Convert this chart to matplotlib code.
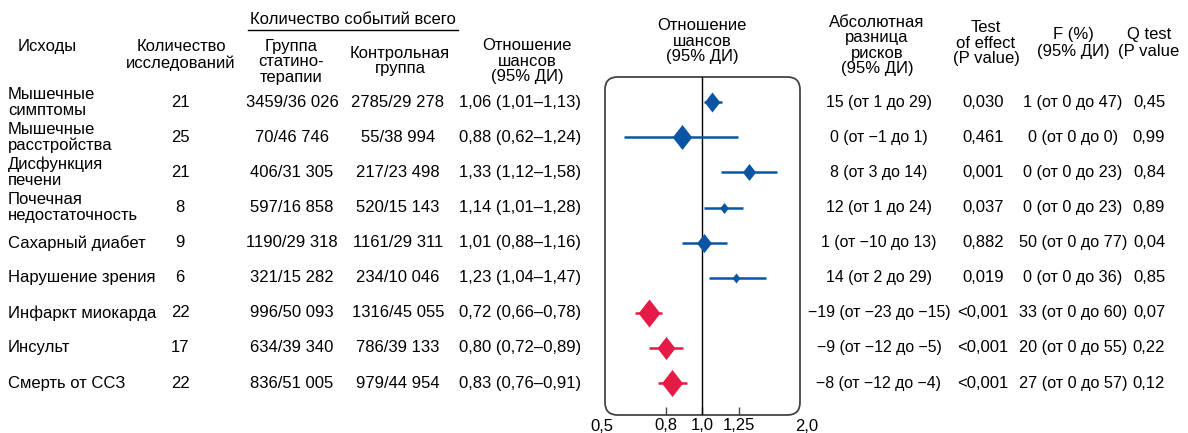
import numpy as np
import matplotlib
matplotlib.use("Agg")
import matplotlib.pyplot as plt
from matplotlib.patches import FancyBboxPatch
from matplotlib.lines import Line2D
from matplotlib.transforms import blended_transform_factory

plt.rcParams['font.family'] = ['Liberation Sans', 'DejaVu Sans']

# data
outcomes = ["Мышечные\nсимптомы", "Мышечные\nрасстройства", "Дисфункция\nпечени",
            "Почечная\nнедостаточность", "Сахарный диабет", "Нарушение зрения",
            "Инфаркт миокарда", "Инсульт", "Смерть от ССЗ"]
n_studies = [21, 25, 21, 8, 9, 6, 22, 17, 22]
statin_events = [3459, 70, 406, 597, 1190, 321, 996, 634, 836]
statin_total = [36026, 46746, 31305, 16858, 29318, 15282, 50093, 39340, 51005]
control_events = [2785, 55, 217, 520, 1161, 234, 1316, 786, 979]
control_total = [29278, 38994, 23498, 15143, 29311, 10046, 45055, 39133, 44954]
odds_ratio = [1.06, 0.88, 1.33, 1.14, 1.01, 1.23, 0.72, 0.80, 0.83]
or_low = [1.01, 0.62, 1.12, 1.01, 0.88, 1.04, 0.66, 0.72, 0.76]
or_high = [1.13, 1.24, 1.58, 1.28, 1.16, 1.47, 0.78, 0.89, 0.91]
ard = [15, 0, 8, 12, 1, 14, -19, -9, -8]
ard_low = [1, -1, 3, 1, -10, 2, -23, -12, -12]
ard_high = [29, 1, 14, 24, 13, 29, -15, -5, -4]
p_effect = ["0,030", "0,461", "0,001", "0,037", "0,882", "0,019", "<0,001", "<0,001", "<0,001"]
f_val = [1, 0, 0, 0, 50, 0, 33, 20, 27]
f_low = [0, 0, 0, 0, 0, 0, 0, 0, 0]
f_high = [47, 0, 23, 23, 77, 36, 60, 55, 57]
q_test = ["0,45", "0,99", "0,84", "0,89", "0,04", "0,85", "0,07", "0,22", "0,12"]

# diamond heights in pixels (weights as drawn)
diamond_px = [20, 25, 17, 11, 19, 10, 28, 23, 27]

BLUE = "#0a55a3"
RED = "#e51b45"
W, H = 1188, 433
FS = 12


def thousands(v):
    return f"{v:,}".replace(",", " ")


def dec(v):
    return f"{v:.2f}".replace(".", ",")


def num(v):
    return f"{v}".replace("-", "\u2212")


fig = plt.figure(figsize=(W / 100, H / 100), dpi=100)
ax = fig.add_axes([605 / W, (H - 415) / H, 195 / W, 338 / H])

ax.set_xscale("log")
ax.set_xlim(0.551, 1.815)
ax.set_ylim(8.91, -0.72)
for s in ax.spines.values():
    s.set_visible(False)
ax.set_yticks([])
ax.set_xticks([0.8, 1.0, 1.25])
ax.set_xticklabels(["0,8", "1,0", "1,25"])
ax.xaxis.set_minor_locator(matplotlib.ticker.NullLocator())
ax.tick_params(axis="x", direction="in", length=6, width=1, color="#444444",
               labelsize=FS, pad=2)

box = FancyBboxPatch((0, 0), 1, 1, boxstyle="round,pad=0,rounding_size=0.065",
                     mutation_aspect=195 / 338, transform=ax.transAxes,
                     facecolor="none", edgecolor="#444444", lw=1.3, clip_on=False)
ax.add_patch(box)
ax.axvline(1.0, color="black", lw=1.0)
ax.text(-0.015, -0.012, "0,5", transform=ax.transAxes, ha="center", va="top", fontsize=FS)
ax.text(1.036, -0.012, "2,0", transform=ax.transAxes, ha="center", va="top", fontsize=FS)

diamond = [(0, 1), (0.78, 0), (0, -1), (-0.78, 0), (0, 1)]
for i in range(len(outcomes)):
    c = RED if or_high[i] < 1 else BLUE
    ax.plot([or_low[i], or_high[i]], [i, i], color=c, lw=1.8, solid_capstyle="butt")
    ax.plot(odds_ratio[i], i, marker=diamond, markersize=diamond_px[i] * 0.72,
            color=c, markeredgewidth=0)

# row texts
tr = blended_transform_factory(fig.transFigure, ax.transData)
for i in range(len(outcomes)):
    kw = dict(transform=tr, va="center", ha="center")
    fig.text(8 / W, i, outcomes[i], transform=tr, va="center", ha="left",
             fontsize=FS, linespacing=1.05)
    fig.text(180 / W, i, str(n_studies[i]), fontsize=FS, **kw)
    fig.text(292 / W, i, f"{statin_events[i]}/{thousands(statin_total[i])}", fontsize=FS, **kw)
    fig.text(398 / W, i, f"{control_events[i]}/{thousands(control_total[i])}", fontsize=FS, **kw)
    fig.text(520 / W, i, f"{dec(odds_ratio[i])} ({dec(or_low[i])}\u2013{dec(or_high[i])})",
             fontsize=FS, **kw)
    fig.text(879 / W, i, f"{num(ard[i])} (от {num(ard_low[i])} до {num(ard_high[i])})",
             fontsize=11.4, **kw)
    fig.text(983 / W, i, p_effect[i], fontsize=FS, **kw)
    fig.text(1073 / W, i, f"{f_val[i]} (от {f_low[i]} до {f_high[i]})", fontsize=11.7, **kw)
    fig.text(1149 / W, i, q_test[i], fontsize=FS, **kw)


# headers
def head(x, y, s, ls=1.05):
    fig.text(x / W, 1 - y / H, s, ha="center", va="center", fontsize=FS, linespacing=ls)


head(47, 46, "Исходы")
head(181, 55, "Количество\nисследований")
head(353, 20, "Количество событий всего")
fig.add_artist(Line2D([248 / W, 458 / W], [1 - 30 / H, 1 - 30 / H], color="black", lw=1))
head(291, 62, "Группа\nстатино-\nтерапии")
head(400, 61, "Контрольная\nгруппа")
head(527, 61, "Отношение\nшансов\n(95% ДИ)")
head(702, 41, "Отношение\nшансов\n(95% ДИ)")
head(877, 45.5, "Абсолютная\nразница\nрисков\n(95% ДИ)")
head(986, 43, "Test\nof effect\n(P value)")
head(1073, 43, "F (%)\n(95% ДИ)", ls=1.2)
head(1149, 43, "Q test\n(P value", ls=1.2)

fig.savefig("out.png", dpi=100)
